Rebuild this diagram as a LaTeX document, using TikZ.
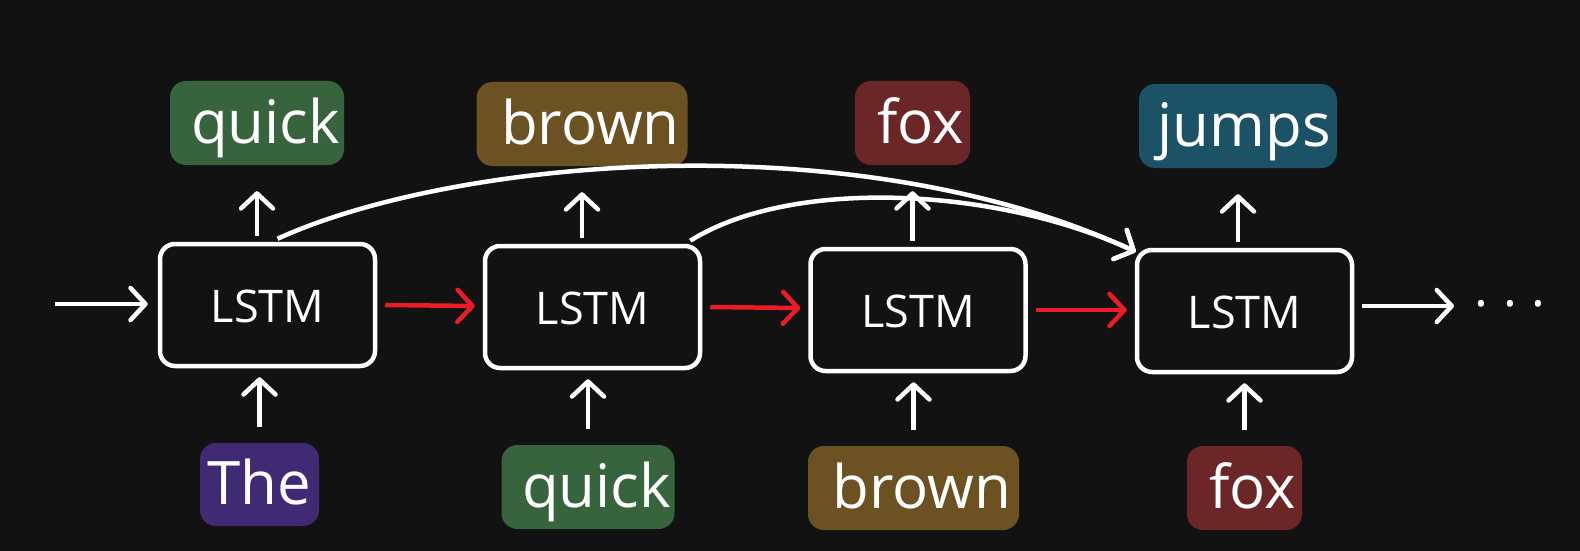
\documentclass[tikz,border=0pt]{standalone}
\usepackage{fontspec}
\setmainfont{Open Sans}
\usetikzlibrary{arrows.meta,calc}
\definecolor{bg}{HTML}{121212}
\definecolor{wgreen}{HTML}{37633D}
\definecolor{wbrown}{HTML}{6C5223}
\definecolor{wred}{HTML}{6B2628}
\definecolor{wteal}{HTML}{1C5266}
\definecolor{wpurple}{HTML}{402A74}
\definecolor{redarrow}{HTML}{ED1C24}
\begin{document}
\begin{tikzpicture}[x=1pt,y=-1pt,
  word/.style={fill=#1, rounded corners=16pt, text=white, minimum height=84pt,
    inner xsep=0pt, inner ysep=0pt, font=\fontsize{60}{72}\selectfont,
    text height=50pt, text depth=10pt},
  lstm/.style={draw=white, line width=4.5pt, rounded corners=15pt, minimum width=215pt,
    minimum height=122pt, fill=bg, text=white, font=\fontsize{45}{54}\selectfont,
    text height=40pt, text depth=6pt, inner sep=0pt},
  arr/.style={draw=white, line width=4.5pt,
    -{Straight Barb[length=15pt,width=32pt,line cap=round,line join=round]}},
  rarr/.style={arr, draw=redarrow},
]
\fill[bg] (0,0) rectangle (1580,551);
\useasboundingbox (0,0) rectangle (1580,551);

% LSTM cells
\node[lstm] (L1) at (267.5,305) {LSTM};
\node[lstm] (L2) at (592.5,307) {LSTM};
\node[lstm] (L3) at (918,310) {LSTM};
\node[lstm] (L4) at (1244.5,311) {LSTM};

% top words
\node[word=wgreen, minimum width=174pt] (T1) at (257,123) {\hspace{17pt}quick};
\node[word=wbrown, minimum width=211pt] (T2) at (582,124) {\hspace{17pt}brown};
\node[word=wred,   minimum width=115pt] (T3) at (912.5,123) {\hspace{17pt}fox};
\node[word=wteal,  minimum width=198pt] (T4) at (1238,126) {\hspace{12pt}jumps};

% bottom words
\node[word=wpurple, minimum width=119pt, minimum height=83pt] (B1) at (259.5,484.5) {The};
\node[word=wgreen, minimum width=173pt] (B2) at (588,487) {\hspace{17pt}quick};
\node[word=wbrown, minimum width=211pt] (B3) at (913.5,488) {\hspace{17pt}brown};
\node[word=wred,   minimum width=115pt] (B4) at (1244.5,488) {\hspace{17pt}fox};

% up arrows to outputs
\foreach \k in {1,2,3,4}{
  \draw[arr] ($(L\k.north -| T\k.south)+(0,-6)$) -- ($(T\k.south)+(0,26)$);
  \draw[arr] ($(B\k.north)+(0,-16)$) -- ($(L\k.south -| B\k.north)+(0,9)$);
}

% horizontal flow
\coordinate (in) at (55,304);
\draw[arr] (in) -- ($(L1.west)+(-10,-1)$);
\draw[rarr] ($(L1.east)+(8,0)$) -- ($(L2.west)+(-8,-1)$);
\draw[rarr] ($(L2.east)+(8,0)$) -- ($(L3.west)+(-8,-2)$);
\draw[rarr] ($(L3.east)+(8,0)$) -- ($(L4.west)+(-8,-1)$);
\coordinate (out) at (1454,306);
\draw[arr] ($(L4.east)+(8,-5)$) -- (out);
\node[text=white, font=\fontsize{52}{60}\selectfont, inner sep=0pt, anchor=base] (dots) at (1510,306) {.\hspace{15pt}.\hspace{15pt}.};

% skip connections
\draw[arr] ([xshift=10pt,yshift=3pt]L1.north) .. controls (450,160) and (850,120) .. ([xshift=1pt,yshift=-4pt]L4.north west);
\draw[arr] ([xshift=-12pt,yshift=3pt]L2.north east) .. controls (790,178) and (994,186) .. ([xshift=1pt,yshift=-4pt]L4.north west);
\end{tikzpicture}
\end{document}
